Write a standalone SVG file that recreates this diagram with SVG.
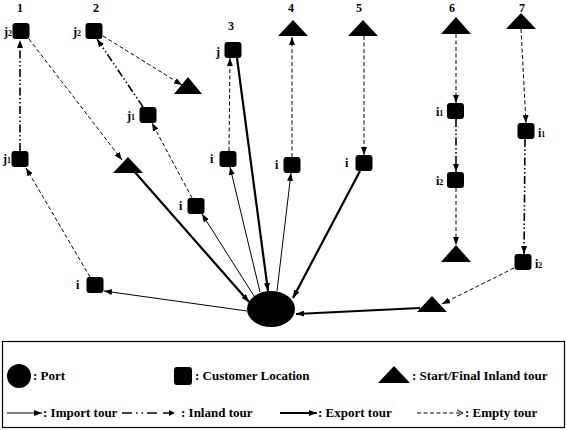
<svg xmlns="http://www.w3.org/2000/svg" width="567" height="430" viewBox="0 0 567 430">
<style>
text{font-family:"Liberation Serif","Times New Roman",serif;font-weight:bold;font-size:12px;fill:#000}
.lg{font-size:13px}
.sub{font-size:8px}
.sq{fill:#000}
.tri{fill:#000}
.imp{stroke:#000;stroke-width:1;fill:none;marker-end:url(#ah)}
.exp{stroke:#000;stroke-width:2.2;fill:none;marker-end:url(#ah)}
.emp{stroke:#000;stroke-width:1;fill:none;stroke-dasharray:4,2.5;marker-end:url(#ah)}
.inl{stroke:#000;stroke-width:1.6;fill:none;stroke-dasharray:8,2.5,1.5,2.5,1.5,2.5;marker-end:url(#ah)}
</style>
<defs>
<marker id="ah" viewBox="0 0 8 6" refX="8" refY="3" markerWidth="8" markerHeight="6" markerUnits="userSpaceOnUse" orient="auto"><path d="M0,0L8,3L0,6z" fill="#000"/></marker>
<marker id="oh" viewBox="0 0 8 8" refX="7" refY="4" markerWidth="8" markerHeight="8" markerUnits="userSpaceOnUse" orient="auto"><path d="M1,1L7,4L1,7" fill="none" stroke="#000" stroke-width="1"/></marker>
</defs>
<g id="labels">
<text x="20" y="12" text-anchor="middle">1</text>
<text x="96" y="12" text-anchor="middle">2</text>
<text x="231" y="30" text-anchor="middle">3</text>
<text x="291" y="12" text-anchor="middle">4</text>
<text x="359" y="12" text-anchor="middle">5</text>
<text x="452" y="12" text-anchor="middle">6</text>
<text x="522" y="12" text-anchor="middle">7</text>
</g>
<g id="connectors">
<line class="emp" x1="90" y1="277" x2="26" y2="168"/>
<line class="inl" x1="20" y1="151" x2="20" y2="40"/>
<line class="emp" x1="29" y1="39" x2="122" y2="160"/>
<line class="imp" x1="247" y1="311" x2="104" y2="291"/>
<line class="exp" x1="133" y1="170" x2="249" y2="302"/>
<line class="imp" x1="254" y1="296" x2="202" y2="214"/>
<line class="emp" x1="192" y1="198" x2="152" y2="123"/>
<line class="inl" x1="143" y1="107" x2="97" y2="39"/>
<line class="emp" x1="103" y1="36" x2="182" y2="85"/>
<line class="imp" x1="260" y1="292" x2="230" y2="167"/>
<line class="emp" x1="229" y1="151" x2="230" y2="58"/>
<line class="exp" x1="237" y1="58" x2="268" y2="291"/>
<line class="imp" x1="277" y1="291" x2="291" y2="173"/>
<line class="emp" x1="292" y1="157" x2="292" y2="37"/>
<line class="emp" x1="364" y1="36" x2="364" y2="155"/>
<line class="exp" x1="360" y1="171" x2="293" y2="298"/>
<line class="emp" x1="456" y1="34" x2="456" y2="103"/>
<line class="inl" x1="456" y1="119" x2="456" y2="172"/>
<line class="emp" x1="456" y1="188" x2="456" y2="245"/>
<line class="emp" x1="521" y1="29" x2="526" y2="123"/>
<line class="inl" x1="525" y1="139" x2="524" y2="254"/>
<line class="emp" x1="514" y1="268" x2="442" y2="304"/>
<line class="exp" x1="420" y1="308" x2="296" y2="314"/>
</g>
<g id="port"><ellipse cx="271" cy="309" rx="24" ry="18" fill="#000"/></g>
<g id="c1j2"><rect class="sq" x="12.5" y="23" width="17" height="16" rx="3"/><text x="4" y="36">j<tspan class="sub">2</tspan></text></g>
<g id="c1j1"><rect class="sq" x="11.5" y="151" width="17" height="16" rx="3"/><text x="3" y="163">j<tspan class="sub">1</tspan></text></g>
<g id="c1i"><rect class="sq" x="86.5" y="277" width="17" height="16" rx="3"/><text x="76" y="289">i</text></g>
<g id="t1"><polygon class="tri" points="128,157 143,173 113,173"/></g>
<g id="c2j2"><rect class="sq" x="85.5" y="23" width="17" height="16" rx="3"/><text x="73" y="36">j<tspan class="sub">2</tspan></text></g>
<g id="t2"><polygon class="tri" points="188,77 202,94 174,94"/></g>
<g id="c2j1"><rect class="sq" x="139.5" y="107" width="17" height="16" rx="3"/><text x="127" y="120">j<tspan class="sub">1</tspan></text></g>
<g id="c2i"><rect class="sq" x="187.5" y="198" width="17" height="16" rx="3"/><text x="179" y="210">i</text></g>
<g id="c3j"><rect class="sq" x="224.5" y="42" width="17" height="16" rx="3"/><text x="216" y="56">j</text></g>
<g id="c3i"><rect class="sq" x="219.5" y="151" width="17" height="16" rx="3"/><text x="210" y="163">i</text></g>
<g id="t4"><polygon class="tri" points="293,20 308,36 278,36"/></g>
<g id="c4i"><rect class="sq" x="283.5" y="157" width="17" height="16" rx="3"/><text x="275" y="169">i</text></g>
<g id="t5"><polygon class="tri" points="363,20 378,36 348,36"/></g>
<g id="c5i"><rect class="sq" x="355.5" y="155" width="17" height="16" rx="3"/><text x="345" y="167">i</text></g>
<g id="t6"><polygon class="tri" points="456,17 471,34 441,34"/></g>
<g id="c6i1"><rect class="sq" x="447" y="103" width="17" height="16" rx="3"/><text x="436" y="116">i<tspan class="sub">1</tspan></text></g>
<g id="c6i2"><rect class="sq" x="447" y="172" width="17" height="16" rx="3"/><text x="436" y="185">i<tspan class="sub">2</tspan></text></g>
<g id="t6b"><polygon class="tri" points="456,245 471,262 441,262"/></g>
<g id="t7"><polygon class="tri" points="521,13 536,29 506,29"/></g>
<g id="c7i1"><rect class="sq" x="517.5" y="123" width="17" height="16" rx="3"/><text x="538" y="137">i<tspan class="sub">1</tspan></text></g>
<g id="c7i2"><rect class="sq" x="514.5" y="254" width="17" height="16" rx="3"/><text x="535" y="268">i<tspan class="sub">2</tspan></text></g>
<g id="t7b"><polygon class="tri" points="432,296 447,312 417,312"/></g>
<g id="legend">
<rect x="2.5" y="341.5" width="562" height="86" fill="none" stroke="#000" stroke-width="1.2"/>
<ellipse cx="19" cy="376" rx="12" ry="12" fill="#000"/>
<text class="lg" x="33" y="380">: Port</text>
<rect x="174" y="367" width="18" height="18" rx="3" fill="#000"/>
<text class="lg" x="195" y="380">: Customer Location</text>
<polygon points="394,366 410,383 378,383" fill="#000"/>
<text class="lg" x="412" y="380">: Start/Final Inland tour</text>
<line x1="7" y1="413" x2="42" y2="413" class="imp"/>
<text class="lg" x="43" y="417">: Import tour</text>
<line x1="122" y1="413" x2="170" y2="413" stroke="#000" stroke-width="1.3" stroke-dasharray="10,4,1.5,4,1.5,4,10,6"/>
<path d="M169,410L175,413L169,416z" fill="#000"/>
<text class="lg" x="181" y="417">: Inland tour</text>
<line x1="280" y1="413" x2="317" y2="413" class="exp"/>
<text class="lg" x="318" y="417">: Export tour</text>
<line x1="417" y1="413" x2="463" y2="413" stroke="#000" stroke-width="1" stroke-dasharray="4,2.5" marker-end="url(#oh)"/>
<text class="lg" x="465" y="417">: Empty tour</text>
</g>
</svg>
